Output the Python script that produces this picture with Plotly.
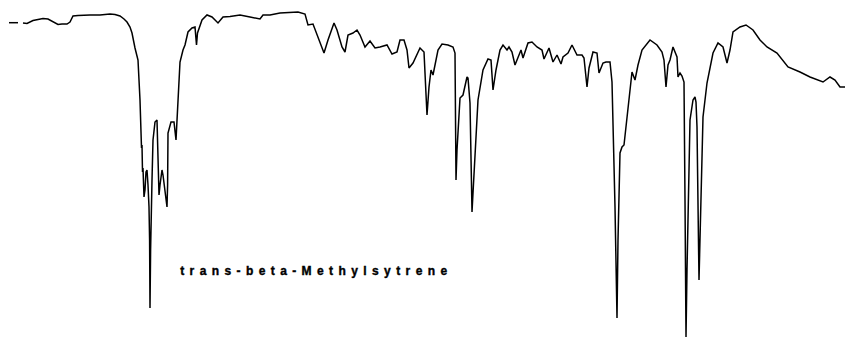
import plotly.graph_objects as go

# Trace of the spectrum (horizontal position, transmittance depth)
dash_x = [9, 18]
dash_y = [22.7, 22.7]

spec_x = [23, 27, 33, 38, 43, 48, 52, 55, 58, 62, 67, 70, 73, 78, 83, 90, 100, 105, 110, 115, 120, 124, 127, 130, 132, 135, 138, 140,
          141, 141.5, 142, 142.5, 143, 144, 145, 146, 147, 148, 149, 149.6, 150, 150.6, 151, 152, 153, 155, 157, 158, 159, 160, 162, 163, 165, 166, 167, 167.6, 168, 171, 174, 176, 177, 178, 179,
          180, 183, 185, 188, 192, 195, 196.5, 197.5, 199, 202, 207, 212, 218, 223, 230, 240, 250, 260, 263, 270, 280, 290, 298, 305,
          308, 313, 318, 324, 328, 334, 337, 342, 345, 348, 353, 357, 360, 365, 370, 375, 380, 387, 392, 397, 400, 404, 407, 409, 413, 417, 420,
          424, 426, 427, 429, 431, 433, 435, 438, 442, 448, 453, 455, 456, 457, 460, 463, 467, 468, 470, 472, 473, 476, 478, 483, 488, 491, 493, 496, 500, 503, 507,
          509, 512, 515, 518, 521, 523, 528, 532, 537, 542, 544, 549, 553, 557, 561, 563, 568, 572, 577, 582, 584, 587, 589, 593, 597, 599, 603, 606, 610,
          612, 613, 615, 617, 618, 620, 622, 624, 627, 630, 632, 635, 638, 642, 647, 650, 657, 662, 664, 666, 668, 670, 673, 677, 678, 680, 682, 684,
          685, 686, 687, 688, 690, 693, 695, 696, 697, 699, 701, 702, 703, 707, 713, 718, 723, 727, 730, 733, 740, 746, 753, 760, 767, 777, 788, 800, 810, 823, 830, 835, 840, 845]
spec_y = [23, 23.5, 20.5, 19.5, 18.5, 19, 21, 23, 24.5, 24, 24, 22, 16, 15.5, 15, 15, 15, 14.5, 14, 14.5, 16, 19, 22, 27, 33, 48, 60, 100,
          140, 148, 145, 172, 168, 197, 190, 172, 170, 185, 207, 240, 308, 250, 215, 180, 140, 122, 120, 150, 195, 185, 170, 175, 190, 200, 207, 185, 133, 122, 122, 140, 120, 113, 80,
          62, 50, 45, 32, 28, 27, 45, 33, 28, 20, 15, 17, 23, 17, 16.5, 15, 17, 19, 15, 15, 13, 12.5, 12, 14,
          25, 24, 37, 53, 40, 23, 30, 47, 52, 35, 33, 30, 35, 47, 41, 48, 47, 45, 54, 52, 40, 40, 50, 68, 63, 55, 48,
          52, 100, 115, 87, 70, 75, 65, 50, 44, 45, 47, 53, 180, 150, 98, 95, 77, 78, 103, 212, 193, 137, 100, 70, 59, 60, 90, 70, 50, 45, 50,
          47, 52, 65, 57, 50, 58, 43, 42, 47, 50, 59, 48, 62, 55, 64, 57, 53, 45, 55, 55, 58, 87, 68, 52, 53, 73, 63, 62, 62,
          82, 123, 207, 318, 240, 153, 147, 145, 117, 87, 72, 80, 65, 50, 43, 40, 45, 52, 60, 87, 65, 60, 47, 57, 77, 73, 76, 82,
          200, 337, 270, 210, 120, 100, 97, 102, 127, 280, 190, 173, 117, 83, 53, 43, 47, 63, 50, 32, 27, 25, 30, 40, 47, 53, 67, 72, 77, 82, 77, 80, 87, 87]

label = "trans-beta-Methylsytrene"

fig = go.Figure()
fig.add_trace(go.Scatter(x=dash_x, y=dash_y, mode="lines",
                         line=dict(color="black", width=1.5), hoverinfo="skip"))
fig.add_trace(go.Scatter(x=spec_x, y=spec_y, mode="lines",
                         line=dict(color="black", width=1.5), hoverinfo="skip"))
fig.add_annotation(x=316, y=271, xref="x", yref="y", text="<b>" + label + "</b>",
                   showarrow=False, xanchor="center", yanchor="middle",
                   font=dict(family="Liberation Sans, Arial", size=12, color="black"))
fig.update_layout(width=845, height=338, margin=dict(l=0, r=0, t=0, b=0),
                  paper_bgcolor="white", plot_bgcolor="white", showlegend=False,
                  xaxis=dict(range=[0, 845], visible=False),
                  yaxis=dict(range=[338, 0], visible=False))

post = """
var t = document.querySelectorAll('.annotation-text');
t.forEach(function(e){ e.style.letterSpacing = '5.4px'; e.style.strokeWidth = '0.4px'; e.style.stroke = 'black'; });
"""
fig.write_html("out.html", post_script=post)
